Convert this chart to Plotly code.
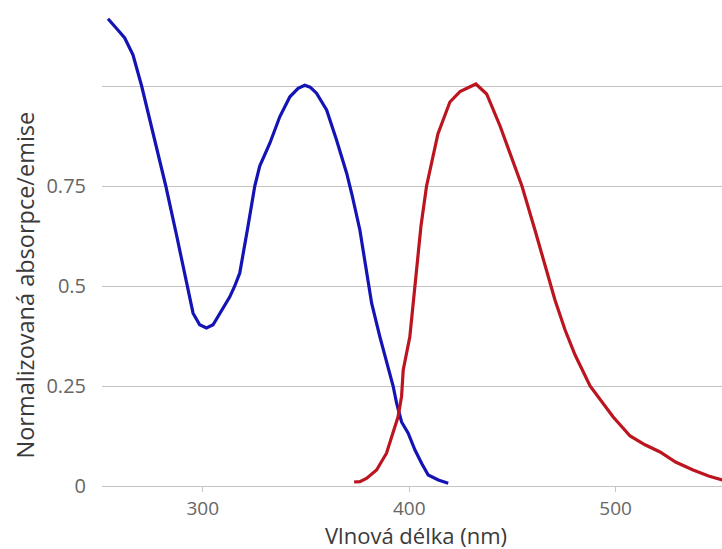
import plotly.graph_objects as go

# Absorption spectrum (blue)
abs_nm = [254.1, 256.5, 258.9, 262.2, 266.2, 270.4, 274.3, 278.2, 282.1, 287.4,
          292.7, 295.3, 298.5, 301.8, 305.0, 308.2, 313.1, 315.5, 317.9, 321.6,
          325.2, 327.6, 332.5, 337.3, 342.2, 346.2, 349.4, 352.0, 355.1, 360.0, 364.8,
          369.7, 372.2, 376.1, 379.0, 381.8, 385.8, 389.8, 392.2, 393.9, 396.3,
          399.5, 402.8, 406.0, 409.2, 414.1, 418.9]
abs_val = [1.168, 1.155, 1.14, 1.12, 1.078, 1.0, 0.917, 0.833, 0.75, 0.625,
           0.5, 0.432, 0.403, 0.395, 0.403, 0.432, 0.473, 0.5, 0.532, 0.64,
           0.75, 0.80, 0.857, 0.923, 0.973, 0.994, 1.002, 0.997, 0.982, 0.94, 0.865,
           0.782, 0.73, 0.64, 0.55, 0.457, 0.373, 0.298, 0.25, 0.207, 0.16,
           0.132, 0.09, 0.057, 0.0275, 0.015, 0.007]

# Emission spectrum (red)
em_nm = [373.3, 376.1, 379.3, 384.2, 389.0, 392.2, 394.6, 396.3, 396.6, 397.1,
         400.3, 401.9, 403.6, 405.7, 408.4, 410.9, 413.9, 419.7, 424.6, 432.3,
         437.5, 444.0, 449.0, 454.6, 460.9, 465.8, 470.6, 475.5, 480.3, 487.6,
         498.7, 507.0, 514.2, 521.5, 529.0, 537.5, 545.0, 551.6, 556.0]
em_val = [0.01, 0.011, 0.019, 0.04, 0.082, 0.132, 0.173, 0.224, 0.25, 0.29,
          0.373, 0.457, 0.54, 0.65, 0.75, 0.807, 0.88, 0.96, 0.986, 1.005,
          0.98, 0.9, 0.83, 0.75, 0.64, 0.553, 0.465, 0.39, 0.328, 0.25,
          0.173, 0.125, 0.103, 0.085, 0.06, 0.04, 0.025, 0.015, 0.012]

y_ticks = [0, 0.25, 0.5, 0.75, 1]
y_tick_text = ["0", "0.25", "0.5", "0.75", ""]
x_ticks = [300, 400, 500]

x_title = "Vlnová délka (nm)"
y_title = "Normalizovaná absorpce/emise"

fig = go.Figure()
fig.add_trace(go.Scatter(x=abs_nm, y=abs_val, mode="lines",
                         line=dict(color="#1414b4", width=3.2), showlegend=False))
fig.add_trace(go.Scatter(x=em_nm, y=em_val, mode="lines",
                         line=dict(color="#bb1620", width=3.2), showlegend=False))

fig.update_layout(
    width=722, height=549,
    margin=dict(l=102, r=0, t=6, b=63),
    paper_bgcolor="white", plot_bgcolor="white",
    font=dict(family="Open Sans", color="#666666"),
    xaxis=dict(range=[251.2, 551.5], tickvals=x_ticks, showgrid=False,
               zeroline=False, showline=True, linecolor="#c4c4c4", linewidth=1,
               ticks="outside", ticklen=5, tickcolor="#c4c4c4",
               tickfont=dict(size=19, color="#666666")),
    yaxis=dict(range=[0, 1.2], tickvals=y_ticks, ticktext=y_tick_text,
               showgrid=True, gridcolor="#c4c4c4", gridwidth=1,
               zeroline=False, showline=False, ticks="",
               ticklabelstandoff=15,
               tickfont=dict(size=20, color="#666666")),
    annotations=[
        dict(text=y_title, xref="paper", yref="paper",
             x=(24 - 102) / 620, y=(486 - 285.5) / 480,
             xanchor="center", yanchor="middle", textangle=-90, showarrow=False,
             font=dict(size=23.5, color="#3a3a3a", family="Open Sans")),
        dict(text=x_title, xref="paper", yref="paper",
             x=(416 - 102) / 620, y=-(535 - 486) / 480,
             xanchor="center", yanchor="middle", showarrow=False,
             font=dict(size=22, color="#3a3a3a", family="Open Sans")),
    ],
)

fig.write_html("out.html")
